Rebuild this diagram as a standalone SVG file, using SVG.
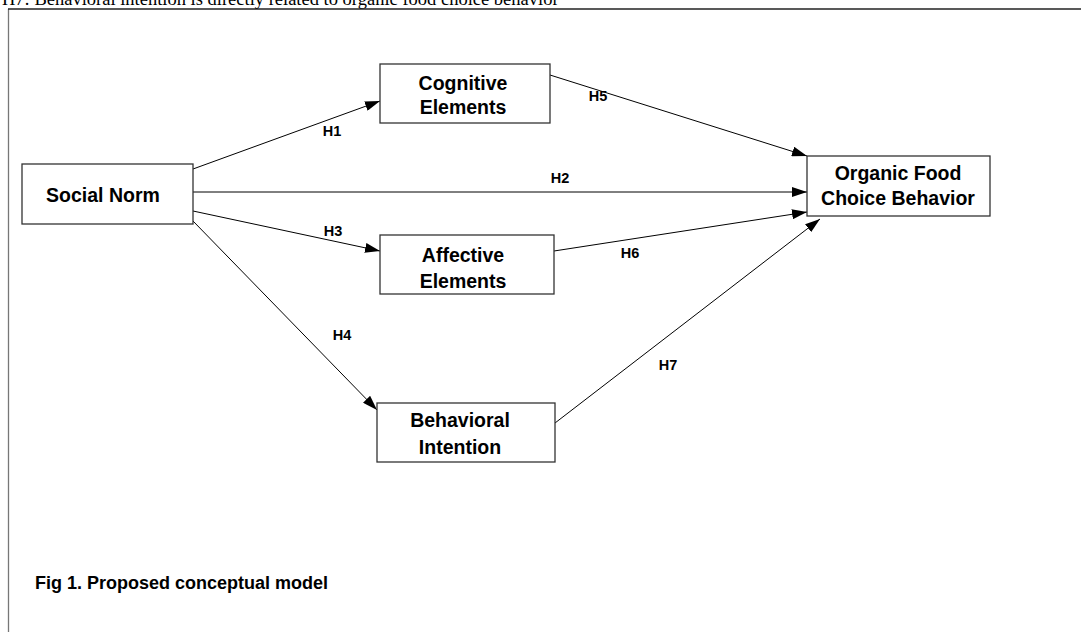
<svg xmlns="http://www.w3.org/2000/svg" width="1081" height="632" viewBox="0 0 1081 632">
<style>
.node{fill:#fff;stroke:#333;stroke-width:1.3}
.lbl{font-family:"Liberation Sans",Arial,sans-serif;font-weight:bold;font-size:19.5px;fill:#000;text-anchor:middle}
.hl{font-family:"Liberation Sans",Arial,sans-serif;font-weight:bold;font-size:14.5px;fill:#000;text-anchor:middle}
.edge{stroke:#000;stroke-width:1;fill:none;marker-end:url(#arr)}
</style>
<defs>
<marker id="arr" markerWidth="16" markerHeight="10" refX="15" refY="5" orient="auto" markerUnits="userSpaceOnUse">
<path d="M0,0 L15,5 L0,10 Z" fill="#000"/>
</marker>
</defs>
<rect width="1081" height="632" fill="#fff"/>
<text x="2" y="5" font-family="Liberation Serif,serif" font-size="18.5" fill="#000">H7: Behavioral intention is directly related to organic food choice behavior</text>
<line x1="8.5" y1="9" x2="8.5" y2="632" stroke="#777" stroke-width="1.3"/>
<line x1="8" y1="9" x2="1081" y2="9" stroke="#222" stroke-width="1.3"/>
<g id="connectors">
<line class="edge" x1="193" y1="169" x2="380" y2="101"/>
<line class="edge" x1="193" y1="192" x2="807" y2="192"/>
<line class="edge" x1="193" y1="211" x2="380" y2="251"/>
<line class="edge" x1="193" y1="221" x2="377" y2="410"/>
<line class="edge" x1="550" y1="75" x2="807" y2="156"/>
<line class="edge" x1="554" y1="251" x2="807" y2="212"/>
<line class="edge" x1="555" y1="423" x2="820" y2="219"/>
<text class="hl" x="332" y="136">H1</text>
<text class="hl" x="560" y="183">H2</text>
<text class="hl" x="333" y="236">H3</text>
<text class="hl" x="342" y="340">H4</text>
<text class="hl" x="598" y="101">H5</text>
<text class="hl" x="630" y="258">H6</text>
<text class="hl" x="668" y="370">H7</text>
</g>
<g id="social-norm">
<rect class="node" x="22" y="164" width="171" height="60"/>
<text class="lbl" x="103" y="202">Social Norm</text>
</g>
<g id="cognitive">
<rect class="node" x="380" y="64" width="170" height="59"/>
<text class="lbl" x="463" y="90">Cognitive</text>
<text class="lbl" x="463" y="114">Elements</text>
</g>
<g id="affective">
<rect class="node" x="380" y="235" width="174" height="59"/>
<text class="lbl" x="463" y="262">Affective</text>
<text class="lbl" x="463" y="288">Elements</text>
</g>
<g id="behavioral">
<rect class="node" x="377" y="403" width="178" height="59"/>
<text class="lbl" x="460" y="427">Behavioral</text>
<text class="lbl" x="460" y="454">Intention</text>
</g>
<g id="organic">
<rect class="node" x="807" y="156" width="183" height="60"/>
<text class="lbl" x="898" y="180">Organic Food</text>
<text class="lbl" x="898" y="205">Choice Behavior</text>
</g>
<text x="35" y="589" font-family="Liberation Sans,Arial,sans-serif" font-weight="bold" font-size="18" fill="#000">Fig 1. Proposed conceptual model</text>
</svg>
